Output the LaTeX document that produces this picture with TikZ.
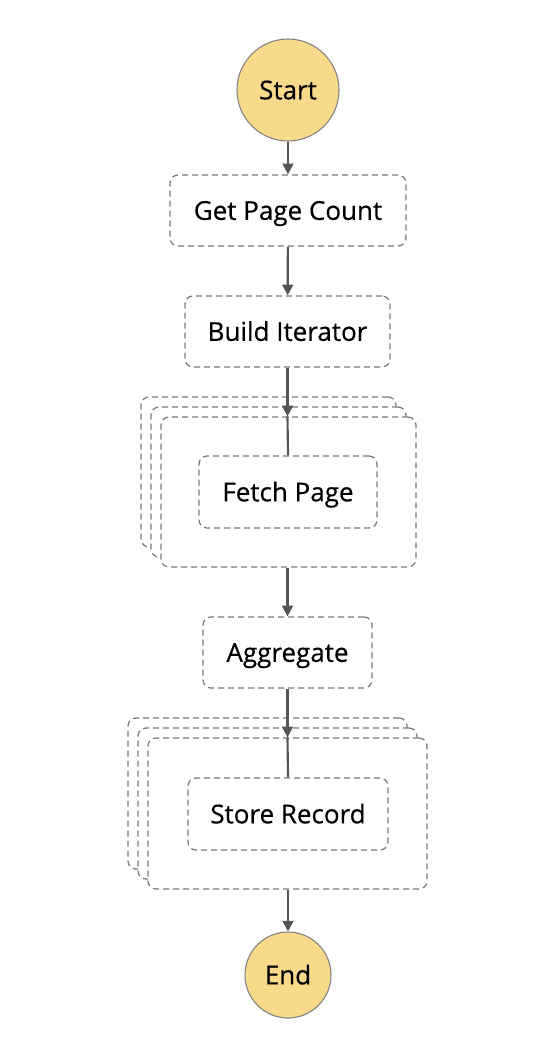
\documentclass[tikz,border=0pt]{standalone}
\usepackage{fontspec}
\setmainfont[FakeBold=0.4]{Open Sans}
\usetikzlibrary{arrows.meta}
\definecolor{stroke}{HTML}{7A7A7A}
\definecolor{arrowc}{HTML}{555555}
\definecolor{startfill}{HTML}{F9D98A}
\tikzset{
  state/.style={draw=stroke, line width=0.95pt, dash pattern=on 4.5pt off 3pt, rounded corners=6pt, fill=white, inner sep=0pt, font=\fontsize{19.5}{22}\selectfont, text=black, text height=14pt, text depth=0pt},
  mapbox/.style={draw=stroke, line width=0.95pt, dash pattern=on 4.5pt off 3pt, rounded corners=6pt, fill=white, inner sep=0pt, minimum width=#1},
  term/.style={circle, draw=black!50, line width=0.8pt, fill=startfill, inner sep=0pt, font=\fontsize{19.5}{22}\selectfont, text height=14pt, text depth=0pt},
  flow/.style={draw=arrowc, line width=1.6pt, -{Triangle[length=8pt,width=8pt]}},
  link/.style={draw=arrowc, line width=1.6pt}
}
\begin{document}
\begin{tikzpicture}[x=0.75pt,y=-0.75pt]
\useasboundingbox (0,0) rectangle (554,1060);
\node[term, minimum size=76.5pt] (start) at (288,90) {Start};
\node[state, minimum width=177pt, minimum height=53.25pt] (gpc) at (288,210.5) {Get Page Count};
\node[state, minimum width=153.75pt, minimum height=53.25pt] (bi) at (287.5,331.5) {Build Iterator};
% fetch map stack
\node[mapbox=191.25pt, minimum height=112.5pt] (fback) at (268.5,472) {};
\node[mapbox=191.25pt, minimum height=112.5pt] (fmid) at (278.5,482) {};
\node[mapbox=191.25pt, minimum height=112.5pt] (ffront) at (288.5,492) {};
\node[state, minimum width=133.5pt, minimum height=54pt] (fetch) at (288,492) {Fetch Page};
\node[state, minimum width=126.75pt, minimum height=53.25pt] (agg) at (287.5,652.5) {Aggregate};
% store map stack
\node[mapbox=209.25pt, minimum height=113.25pt] (sback) at (267.5,793.5) {};
\node[mapbox=209.25pt, minimum height=113.25pt] (smid) at (277.5,803.5) {};
\node[mapbox=209.25pt, minimum height=113.25pt] (sfront) at (287.5,813.5) {};
\node[state, minimum width=150pt, minimum height=54pt] (store) at (288,814) {Store Record};
\node[term, minimum size=64.5pt] (end) at (288,975) {End};
% connectors
\draw[flow] (start) -- (gpc);
\draw[flow] (gpc) -- (bi);
\draw[flow] (bi.south) -- (bi.south |- ffront.north);
\draw[link] (bi.south |- ffront.north) -- (fetch.north);
\draw[flow] (ffront.south -| agg.north) -- (agg.north);
\draw[flow] (agg.south) -- (agg.south |- sfront.north);
\draw[link] (agg.south |- sfront.north) -- (store.north);
\draw[flow] (sfront.south -| end.north) -- (end.north);
\end{tikzpicture}
\end{document}
